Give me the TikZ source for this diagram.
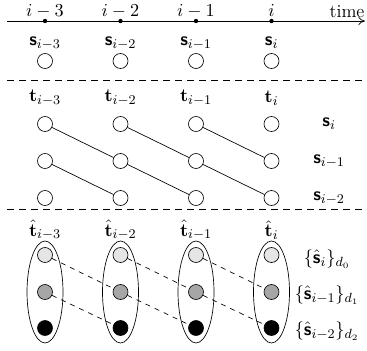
\documentclass[tikz,border=0pt]{standalone}
\usepackage{amsmath}
\usetikzlibrary{shapes.geometric,arrows.meta}
\newcommand{\sv}{\textsf{\textbf{s}}}
\begin{document}
\begin{tikzpicture}[x=0.6pt,y=-0.6pt,
  font=\fontsize{11}{13}\selectfont,
  tdot/.style={circle,fill,inner sep=0pt,minimum size=2.6pt},
  oc/.style={circle,draw,inner sep=0pt,minimum size=9pt,fill=white},
  hsep/.style={dash pattern=on 4.2pt off 3pt},
  egg/.style={ellipse,draw,inner sep=0pt,minimum width=21.6pt,minimum height=61.2pt},
  lbl/.style={inner sep=0pt}]
\useasboundingbox (0,0) rectangle (367,350);
% time axis
\coordinate (a0) at (7,21);
\coordinate (a1) at (365,21);
\draw[-{To[length=4pt,width=5pt]}] (a0) -- (a1);
\node[lbl,anchor=base] (time) at (347,17) {time};
\foreach \k/\x/\t in {0/45/{i-3},1/120.5/{i-2},2/196/{i-1},3/271.5/{i}}{
  \node[tdot] (d\k) at (\x,21) {};
  \node[lbl,anchor=base] (tl\k) at (\x,16.5) {$\t$};
}
% columns
\foreach \k/\x/\t in {0/45/{i-3},1/120.5/{i-2},2/196/{i-1},3/271.5/{i}}{
  \node[lbl] (sl\k) at (\x,43) {$\sv_{\t}$};
  \node[oc] (s\k) at (\x,61) {};
  \node[lbl] (tt\k) at (\x,98) {$\mathbf{t}_{\t}$};
  \node[lbl] (th\k) at (\x,230) {$\hat{\mathbf{t}}_{\t}$};
  \node[oc] (r\k a) at (\x,124) {};
  \node[oc] (r\k b) at (\x,161) {};
  \node[oc] (r\k c) at (\x,198) {};
  \node[egg] (e\k) at (\x,292) {};
  \node[oc,fill=black!10] (h\k a) at (\x,255) {};
  \node[oc,fill=black!35] (h\k b) at (\x,292) {};
  \node[oc,fill=black] (h\k c) at (\x,328) {};
}
% separators
\coordinate (l0) at (7,80);
\coordinate (l1) at (367,80);
\coordinate (m0) at (7,209);
\coordinate (m1) at (367,209);
\draw[hsep] (l0) -- (l1);
\draw[hsep] (m0) -- (m1);
% right labels
\node[lbl] (ra) at (329,124) {$\sv_{i}$};
\node[lbl] (rb) at (329,161) {$\sv_{i-1}$};
\node[lbl] (rc) at (329,198) {$\sv_{i-2}$};
\node[lbl] (qa) at (327,259) {$\{\hat{\sv}_{i}\}_{d_0}$};
\node[lbl] (qb) at (327,295) {$\{\hat{\sv}_{i-1}\}_{d_1}$};
\node[lbl] (qc) at (327,331) {$\{\hat{\sv}_{i-2}\}_{d_2}$};
% connectors
\foreach \k/\n in {0/1,1/2,2/3}{
  \draw (r\k a) -- (r\n b);
  \draw (r\k b) -- (r\n c);
  \draw[dashed] (h\k a) -- (h\n b);
  \draw[dashed] (h\k b) -- (h\n c);
}
\end{tikzpicture}
\end{document}
